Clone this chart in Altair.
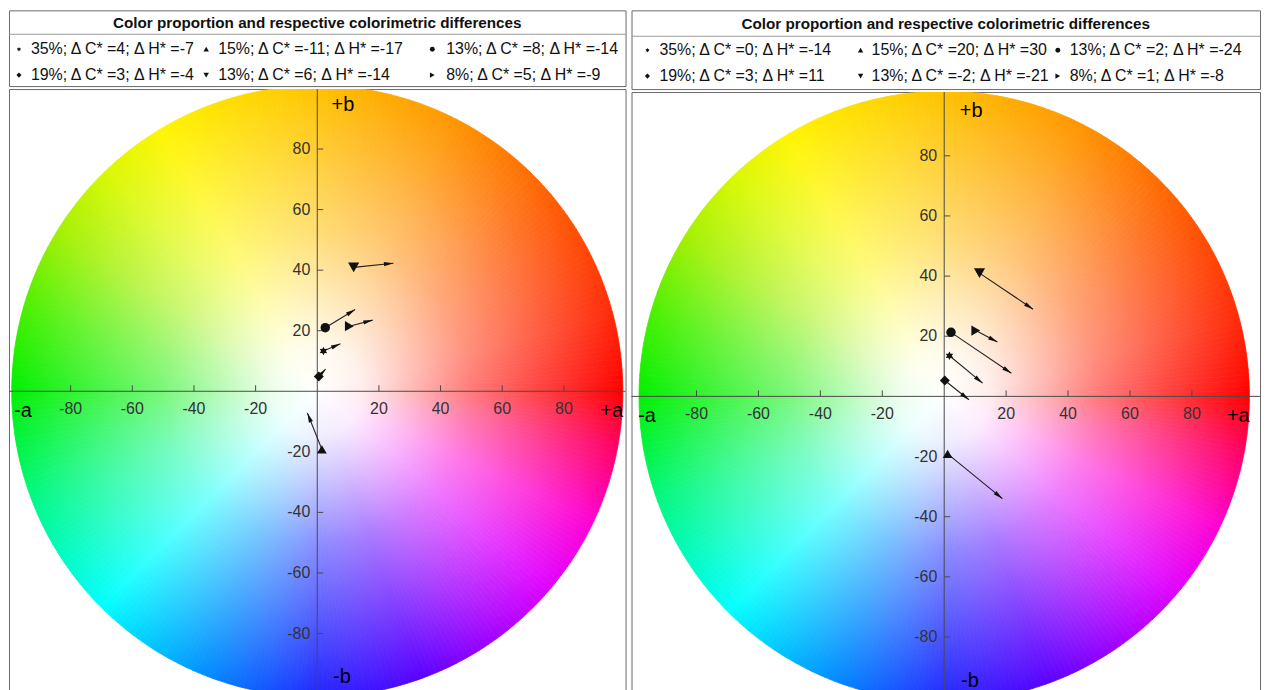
import math
import altair as alt
import pandas as pd

# ------------------------------------------------------------------ data
title_text = "Color proportion and respective colorimetric differences"
proportions = ["35%", "15%", "13%", "19%", "13%", "8%"]
marker_keys = ["hexagram", "triangle-up", "circle", "diamond", "triangle-down", "triangle-right"]

left_dC = [4, -11, 8, 3, 6, 5]
left_dH = [-7, -17, -14, -4, -14, -9]
right_dC = [0, 20, 2, 3, -2, 1]
right_dH = [-14, 30, -24, 11, -21, -8]

# a*, b* of each sample (marker) and arrow tip
left_a_start = [2.0, 1.5, 2.6, 0.5, 11.8, 10.4]
left_b_start = [13.3, -19.2, 21.0, 4.9, 40.9, 21.5]
left_a_end = [7.5, -3.2, 12.3, 2.7, 24.7, 18.0]
left_b_end = [15.7, -7.2, 27.0, 7.3, 42.3, 23.5]

right_a_start = [1.7, 1.1, 2.2, 0.2, 11.4, 10.2]
right_b_start = [13.5, -19.1, 21.3, 5.3, 41.0, 21.9]
right_a_end = [12.4, 18.8, 21.7, 8.0, 28.7, 17.2]
right_b_end = [4.4, -34.0, 7.7, -1.1, 29.0, 18.1]

tick_values = [-80, -60, -40, -20, 20, 40, 60, 80]
tick_labels = ["-80", "-60", "-40", "-20", "20", "40", "60", "80"]
axis_letters = ["+a", "-a", "+b", "-b"]

# hue wheel (hue angle in degrees, counter-clockwise from +a)
hue_angles = [0, 15, 38, 54, 65, 80, 94, 109, 121, 134, 149, 166, 180, 200, 225, 248, 270, 290, 305, 320, 335, 350, 360]
hue_colors = ["#ff0000", "#ff2a08", "#ff5a00", "#ff8000", "#ff9800", "#ffb000", "#ffc800", "#ffe000",
              "#fff500", "#d8f800", "#a0f000", "#40f000", "#00f000", "#00f880", "#00ffff", "#0090ff",
              "#1e26ff", "#5a00ff", "#a000ff", "#e000ff", "#ff00d0", "#ff0060", "#ff0000"]

# ------------------------------------------------------------------ style / layout
FONT = "Liberation Sans"
INK = "#111111"


def star_path(n=6, r_in=0.55):
    pts = []
    for k in range(2 * n):
        ang = math.radians(-90 + k * 180 / n)
        r = 1.0 if k % 2 == 0 else r_in
        pts.append(f"{r * math.cos(ang):.3f},{r * math.sin(ang):.3f}")
    return "M" + "L".join(pts) + "Z"


SHAPES = {"hexagram": star_path(), "triangle-up": "triangle-up", "circle": "circle",
          "diamond": "diamond", "triangle-down": "triangle-down", "triangle-right": "triangle-right"}
PLOT_SIZES = {"hexagram": 75, "triangle-up": 95, "circle": 90, "diamond": 100,
              "triangle-down": 125, "triangle-right": 105}
HDR_SIZES = {"hexagram": 20, "triangle-up": 30, "circle": 24, "diamond": 26,
             "triangle-down": 30, "triangle-right": 30}
HEAD_PATH = "M0,0L-0.45,2L0.45,2Z"

LW, RW = 619, 631
L_HDR_H, R_HDR_H = 76, 79
L_PLOT_H, R_PLOT_H = 612, 609
L_XDOM, R_XDOM = [-100, 100], [-101, 102]
L_YDOM, R_YDOM = [-101.5, 99.8], [-100.5, 101.2]

hue_scale = alt.Scale(domain=hue_angles, range=hue_colors, interpolate="rgb", nice=False, zero=False)


def header(W, H, dC, dH, sym_x, txt_x, row_y, title_y, sep_y):
    labels = [f"{p}; \u0394 C* ={c}; \u0394 H* ={h}" for p, c, h in zip(proportions, dC, dH)]
    cols = [0, 1, 2, 0, 1, 2]
    rows = [0, 0, 0, 1, 1, 1]
    df = pd.DataFrame({
        "label": labels,
        "key": marker_keys,
        "sx": [sym_x[c] for c in cols],
        "tx": [txt_x[c] for c in cols],
        "ty": [row_y[r] for r in rows],
        "sz": [HDR_SIZES[k] for k in marker_keys],
    })
    base = alt.Chart(df)
    syms = base.mark_point(filled=True, color=INK, opacity=1, strokeWidth=0).encode(
        x=alt.X("sx:Q", scale=None, axis=None),
        y=alt.Y("ty:Q", scale=None, axis=None),
        shape=alt.Shape("key:N", scale=alt.Scale(domain=marker_keys, range=[SHAPES[k] for k in marker_keys]), legend=None),
        size=alt.Size("sz:Q", scale=None, legend=None),
    )
    txt = base.mark_text(font=FONT, fontSize=16, align="left", baseline="middle", color=INK).encode(
        x=alt.X("tx:Q", scale=None, axis=None),
        y=alt.Y("ty:Q", scale=None, axis=None),
        text="label:N",
    )
    tdf = pd.DataFrame({"t": [title_text], "x": [W / 2], "y": [title_y]})
    title = alt.Chart(tdf).mark_text(font=FONT, fontSize=15.3, fontWeight="bold", align="center",
                                     baseline="middle", color=INK).encode(
        x=alt.X("x:Q", scale=None, axis=None), y=alt.Y("y:Q", scale=None, axis=None), text="t:N")
    sep = alt.Chart(pd.DataFrame({"y": [sep_y]})).mark_rule(color="#9a9a9a", strokeWidth=1).encode(
        y=alt.Y("y:Q", scale=None, axis=None), x=alt.value(0), x2=alt.value(W))
    return alt.layer(sep, title, syms, txt).properties(width=W, height=H)


def panel(a0, b0, a1, b1, W, H, xdom, ydom, letter_pos):
    ux = W / (xdom[1] - xdom[0])
    uy = H / (ydom[1] - ydom[0])
    R = 100 * (ux + uy) / 2
    xs = alt.Scale(domain=xdom, nice=False, zero=False)
    ys = alt.Scale(domain=ydom, nice=False, zero=False)

    X0 = alt.XDatum(0, scale=xs, axis=None, type="quantitative")
    Y0 = alt.YDatum(0, scale=ys, axis=None, type="quantitative")

    hue = pd.DataFrame({"h": list(range(360))})
    hue["t1"] = ((90 - hue["h"] - 1) % 360) * math.pi / 180
    hue["t2"] = hue["t1"] + math.pi / 180
    hue["hc"] = hue["h"] + 0.5
    wheel = alt.Chart(hue).mark_arc(clip=True, strokeWidth=0.8).encode(
        x=X0, y=Y0,
        theta=alt.Theta("t1:Q", scale=None),
        theta2=alt.Theta2("t2:Q"),
        radius=alt.value(R),
        fill=alt.Fill("hc:Q", scale=hue_scale, legend=None),
        stroke=alt.Stroke("hc:Q", scale=hue_scale, legend=None),
    )
    grad = {"gradient": "radial", "x1": 0.5, "y1": 0.5, "r1": 0, "x2": 0.5, "y2": 0.5, "r2": 0.5,
            "stops": [{"offset": 0, "color": "rgba(255,255,255,1)"},
                      {"offset": 0.15, "color": "rgba(255,255,255,0.92)"},
                      {"offset": 0.5, "color": "rgba(255,255,255,0.48)"},
                      {"offset": 1, "color": "rgba(255,255,255,0)"}]}
    overlay = alt.Chart(pd.DataFrame({"k": [0]})).mark_arc(clip=True, fill=grad, strokeWidth=0).encode(
        x=X0, y=Y0, theta=alt.value(0), theta2=alt.value(2 * math.pi), radius=alt.value(R + 1))

    axcol = "#4a4a4a"
    vline = alt.Chart(pd.DataFrame({"k": [0]})).mark_rule(color=axcol, strokeWidth=1).encode(
        x=X0, y=alt.YDatum(ydom[1], scale=ys, axis=None), y2=alt.Y2Datum(ydom[0]))
    hline = alt.Chart(pd.DataFrame({"k": [0]})).mark_rule(color=axcol, strokeWidth=1).encode(
        y=Y0, x=alt.XDatum(xdom[0], scale=xs, axis=None), x2=alt.X2Datum(xdom[1]))

    tdf = pd.DataFrame({"t": tick_values, "lab": tick_labels})
    tb = alt.Chart(tdf)
    xt = tb.mark_rule(color=axcol, strokeWidth=1, y2Offset=-6).encode(
        x=alt.X("t:Q", scale=xs, axis=None), y=Y0, y2=alt.Y2Datum(0))
    yt = tb.mark_rule(color=axcol, strokeWidth=1, x2Offset=6).encode(
        y=alt.Y("t:Q", scale=ys, axis=None), x=X0, x2=alt.X2Datum(0))
    xl = tb.mark_text(font=FONT, fontSize=16, color="#333333", baseline="middle", dy=18).encode(
        x=alt.X("t:Q", scale=xs, axis=None), y=Y0, text="lab:N")
    yl = tb.mark_text(font=FONT, fontSize=16, color="#333333", baseline="middle", align="right", dx=-7).encode(
        y=alt.Y("t:Q", scale=ys, axis=None), x=X0, text="lab:N")

    ang = [math.degrees(math.atan2((e - s) * ux, (f - g) * uy)) % 360
           for s, e, g, f in zip(a0, a1, b0, b1)]
    adf = pd.DataFrame({"a0": a0, "b0": b0, "a1": a1, "b1": b1, "ang": ang, "key": marker_keys,
                        "sz": [PLOT_SIZES[k] for k in marker_keys]})
    ab = alt.Chart(adf)
    shafts = ab.mark_rule(color="#222222", strokeWidth=1.1).encode(
        x=alt.X("a0:Q", scale=xs, axis=None), y=alt.Y("b0:Q", scale=ys, axis=None),
        x2="a1:Q", y2="b1:Q")
    heads = ab.mark_point(shape=HEAD_PATH, filled=True, color="#111111", opacity=1, size=90, strokeWidth=0).encode(
        x=alt.X("a1:Q", scale=xs, axis=None), y=alt.Y("b1:Q", scale=ys, axis=None),
        angle=alt.Angle("ang:Q", scale=None))
    marks = ab.mark_point(filled=True, color=INK, opacity=1, strokeWidth=0).encode(
        x=alt.X("a0:Q", scale=xs, axis=None), y=alt.Y("b0:Q", scale=ys, axis=None),
        shape=alt.Shape("key:N", scale=alt.Scale(domain=marker_keys, range=[SHAPES[k] for k in marker_keys]), legend=None),
        size=alt.Size("sz:Q", scale=None, legend=None))

    ldf = pd.DataFrame({"lab": axis_letters, "x": [p[0] for p in letter_pos], "y": [p[1] for p in letter_pos]})
    letters = alt.Chart(ldf).mark_text(font=FONT, fontSize=20, color="#000000", baseline="middle", align="center").encode(
        x=alt.X("x:Q", scale=xs, axis=None), y=alt.Y("y:Q", scale=ys, axis=None), text="lab:N")

    return alt.layer(wheel, overlay, vline, hline, xt, yt, xl, yl, shafts, heads, marks, letters).properties(
        width=W, height=H)


L_LETTERS = [(95.5, -6.6), (-95.5, -6.6), (8.3, 94.5), (8.0, -94.5)]
R_LETTERS = [(95.0, -6.4), (-96.0, -6.4), (8.7, 94.8), (8.3, -94.8)]

hdr_l = header(LW, L_HDR_H, left_dC, left_dH, sym_x=[10, 198, 425], txt_x=[22, 210, 439],
               row_y=[39, 65], title_y=13, sep_y=24)
hdr_r = header(RW, R_HDR_H, right_dC, right_dH, sym_x=[16, 230, 428], txt_x=[28, 241, 440],
               row_y=[40, 66], title_y=14, sep_y=26)
pl = panel(left_a_start, left_b_start, left_a_end, left_b_end, LW, L_PLOT_H, L_XDOM, L_YDOM, L_LETTERS)
pr = panel(right_a_start, right_b_start, right_a_end, right_b_end, RW, R_PLOT_H, R_XDOM, R_YDOM, R_LETTERS)

chart = alt.hconcat(
    alt.vconcat(hdr_l, pl, spacing=1),
    alt.vconcat(hdr_r, pr, spacing=1),
    spacing=4,
).properties(padding=0, background="white").configure_view(stroke="#6a6a6a", strokeWidth=1)

chart.save("out.html", embed_options={"renderer": "svg", "actions": False})
